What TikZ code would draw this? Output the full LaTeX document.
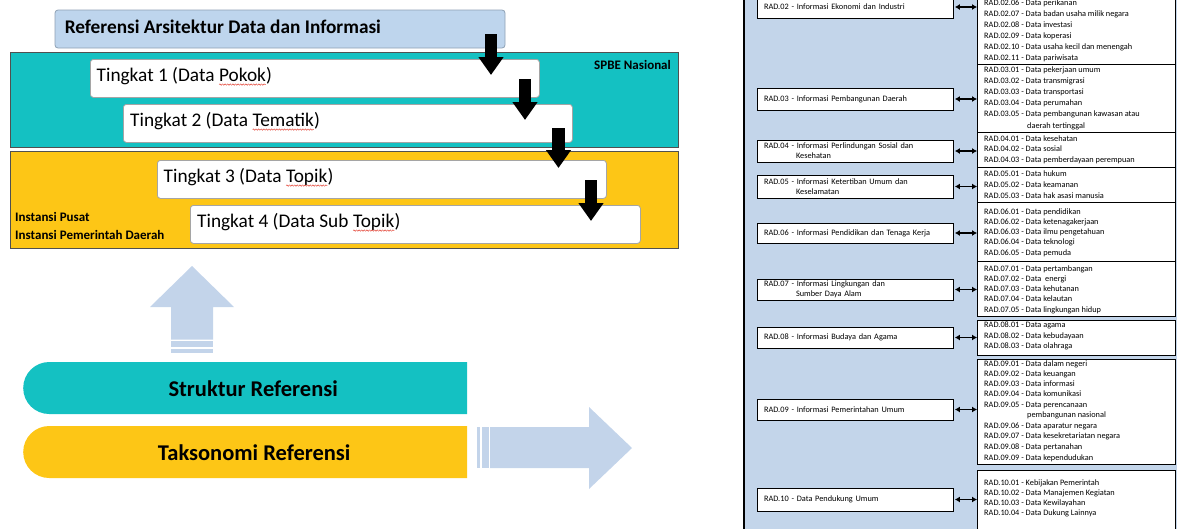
\documentclass[tikz,border=0pt]{standalone}
\usepackage{fontspec}
\setmainfont{Carlito}
\usetikzlibrary{arrows.meta,shapes.misc,decorations.pathmorphing}

\definecolor{bandteal}{HTML}{14C1C2}
\definecolor{bandyellow}{HTML}{FDC616}
\definecolor{titleblue}{HTML}{BED5ED}
\definecolor{titleedge}{HTML}{8EA0B4}
\definecolor{flowblue}{HTML}{C3D4EA}
\definecolor{panelblue}{HTML}{C3D5EA}
\definecolor{boxedge}{HTML}{A5A5A5}
\definecolor{bandedge}{HTML}{505050}
\definecolor{spellred}{HTML}{E34234}

% red wavy spell-check mark under a word
\newcommand{\spellmark}[1]{\tikz[baseline=(sw.base)]{%
  \node[inner sep=0pt,outer sep=0pt,anchor=base] (sw) {#1};%
  \draw[spellred,line width=0.45pt,decorate,decoration={snake,amplitude=0.7pt,segment length=2.6pt}]
    ([yshift=-3pt]sw.base west) -- ([yshift=-3pt]sw.base east);}}

\tikzset{
  band/.style={draw=bandedge,line width=0.9pt,anchor=north west,inner sep=0pt,minimum width=668pt},
  tbox/.style={draw=boxedge,fill=white,rounded corners=3pt,line width=0.8pt,anchor=north west,
    inner sep=0pt,minimum width=449pt,minimum height=38pt},
  ttext/.style={anchor=west,inner sep=0pt,text height=12.3pt,text depth=0pt,font=\fontsize{19.3}{22}\selectfont},
  blkarrow/.style={line width=12.5pt,black,-{Triangle[length=18pt,width=24pt]}},
  sidelabel/.style={anchor=west,inner sep=0pt,text height=8.4pt,text depth=0pt,font=\fontsize{13}{15}\selectfont\bfseries},
  pill/.style={rounded rectangle,rounded rectangle right arc=none,inner sep=0pt,
    minimum width=444pt,minimum height=52pt,anchor=west},
  pilltext/.style={inner sep=0pt,text height=14.5pt,text depth=0pt,font=\fontsize{22.5}{26}\selectfont\bfseries},
  radbox/.style={draw=black,fill=white,line width=0.8pt,minimum width=196pt,text width=182pt,
    inner xsep=7pt,inner ysep=0pt,align=left,font=\fontsize{8.3}{10}\selectfont},
  dbox/.style={draw=black,fill=white,line width=0.8pt,anchor=north west,inner sep=0pt,minimum width=198pt},
  dline/.style={anchor=west,inner sep=0pt,text height=5pt,text depth=0pt,font=\fontsize{8.3}{10}\selectfont},
  dblarrow/.style={line width=1.4pt,{Latex[length=5pt,width=6pt]}-{Latex[length=5pt,width=6pt]},shorten <=1.5pt}
}

\begin{document}
\begin{tikzpicture}[x=1pt,y=-1pt]
\useasboundingbox (0,0) rectangle (1177,528);
\begin{scope}
\clip (0,0) rectangle (1177,528);

% ---------- layered reference structure ----------
\node[draw=titleedge,fill=titleblue,rounded corners=3pt,line width=0.8pt,inner sep=0pt,
  minimum width=450pt,minimum height=38pt] (title) at (280,29) {};
\node[anchor=west,inner sep=0pt,text height=12.5pt,text depth=0pt,font=\fontsize{19.3}{22}\selectfont\bfseries]
  (titletxt) at ([xshift=10pt,yshift=2pt]title.west) {Referensi Arsitektur Data dan Informasi};

\node[band,fill=bandteal,minimum height=95pt] (spbe) at (10,52) {};
\node[band,fill=bandyellow,minimum height=97pt] (instansi) at (10,151) {};

\node[sidelabel,anchor=east] (spbetxt) at (671,65) {SPBE Nasional};
\node[sidelabel] (pusat) at (15,217) {Instansi Pusat};
\node[sidelabel] (pemda) at (15,235) {Instansi Pemerintah Daerah};

\node[tbox] (t1) at (90,59) {};
\node[tbox] (t2) at (123,104) {};
\node[tbox] (t3) at (157,160) {};
\node[tbox,minimum width=450pt] (t4) at (190,205) {};

\node[ttext] (t1txt) at ([xshift=6.5pt,yshift=3pt]t1.west) {Tingkat 1 (Data \spellmark{Pokok})};
\node[ttext] (t2txt) at ([xshift=7pt,yshift=3pt]t2.west) {Tingkat 2 (Data \spellmark{Tematik})};
\node[ttext] (t3txt) at ([xshift=6.5pt,yshift=3pt]t3.west) {Tingkat 3 (Data \spellmark{Topik})};
\node[ttext] (t4txt) at ([xshift=7pt,yshift=3pt]t4.west) {Tingkat 4 (Data Sub \spellmark{Topik})};

% stepping arrows between the levels
\draw[blkarrow] (491,34) -- (491,75);
\draw[blkarrow] (525,79) -- (525,120);
\draw[blkarrow] (558.5,128) -- (558.5,168);
\draw[blkarrow] (591,180) -- (591,221);

% ---------- structure / taxonomy ----------
\fill[flowblue] (171,339.5) -- (171,307) -- (150,307) -- (192,266) -- (234,307) -- (213,307) -- (213,339.5) -- cycle;
\fill[flowblue] (171,341) rectangle (213,347.2);
\fill[flowblue] (171,348.7) rectangle (213,353);

\node[pill,fill=bandteal] (struktur) at (23,388) {};
\node[pill,fill=bandyellow] (taksonomi) at (23,452) {};
\node[pilltext] (strukturtxt) at ([xshift=8pt,yshift=-1.5pt]struktur.center) {Struktur Referensi};
\node[pilltext] (taksonomitxt) at ([xshift=9pt,yshift=-1.5pt]taksonomi.center) {Taksonomi Referensi};

\fill[flowblue] (477,427) rectangle (480,468);
\fill[flowblue] (481.5,427) rectangle (488.5,468);
\fill[flowblue] (490,427) -- (589,427) -- (589,407) -- (632,448) -- (589,489) -- (589,468) -- (490,468) -- cycle;

% ---------- taxonomy detail panel ----------
\fill[panelblue,draw=black,line width=1.2pt] (744,-10) rectangle (1200,540);

\node[radbox,minimum height=22pt] (r02) at (855,7) {RAD.02 - Informasi Ekonomi dan Industri};
\node[radbox,minimum height=22pt] (r03) at (855,99) {RAD.03 - Informasi Pembangunan Daerah};
\node[radbox,minimum height=22pt] (r04) at (855,151) {RAD.04 - Informasi Perlindungan Sosial dan\\\hspace*{32pt}Kesehatan};
\node[radbox,minimum height=23pt] (r05) at (855,186.5) {RAD.05 - Informasi Ketertiban Umum dan\\\hspace*{32pt}Keselamatan};
\node[radbox,minimum height=20pt] (r06) at (855,233) {RAD.06 - Informasi Pendidikan dan Tenaga Kerja};
\node[radbox,minimum height=21pt] (r07) at (855,289.5) {RAD.07 - Informasi Lingkungan dan\\\hspace*{32pt}Sumber Daya Alam};
\node[radbox,minimum height=21pt] (r08) at (855,337.5) {RAD.08 - Informasi Budaya dan Agama};
\node[radbox,minimum height=21pt] (r09) at (855,409.5) {RAD.09 - Informasi Pemerintahan Umum};
\node[radbox,minimum height=23pt] (r10) at (855,499.5) {RAD.10 - Data Pendukung Umum};

\node[dbox,minimum height=74pt] (d02) at (977,-10) {};
\node[dbox,minimum height=68pt] (d03) at (977,64) {};
\node[dbox,minimum height=35pt] (d04) at (977,132) {};
\node[dbox,minimum height=35pt] (d05) at (977,167) {};
\node[dbox,minimum height=59pt] (d06) at (977,202) {};
\node[dbox,minimum height=55pt] (d07) at (977,261) {};
\node[dbox,minimum height=35pt] (d08) at (977,320) {};
\node[dbox,minimum height=105pt] (d09) at (977,359) {};
\node[dbox,minimum height=70pt] (d10) at (977,470) {};

\foreach \yy/\tx in {
  3/RAD.02.06 - Data perikanan,
  14/RAD.02.07 - Data badan usaha milik negara,
  25/RAD.02.08 - Data investasi,
  36/RAD.02.09 - Data koperasi,
  47/RAD.02.10 - Data usaha kecil dan menengah,
  58/RAD.02.11 - Data pariwisata,
  70/RAD.03.01 - Data pekerjaan umum,
  81/RAD.03.02 - Data transmigrasi,
  92/RAD.03.03 - Data transportasi,
  103/RAD.03.04 - Data perumahan,
  114/RAD.03.05 - Data pembangunan kawasan atau,
  139/RAD.04.01 - Data kesehatan,
  149/RAD.04.02 - Data sosial,
  160/RAD.04.03 - Data pemberdayaan perempuan,
  174/RAD.05.01 - Data hukum,
  185/RAD.05.02 - Data keamanan,
  196/RAD.05.03 - Data hak asasi manusia,
  212/RAD.06.01 - Data pendidikan,
  222/RAD.06.02 - Data ketenagakerjaan,
  232/RAD.06.03 - Data ilmu pengetahuan,
  242/RAD.06.04 - Data teknologi,
  253/RAD.06.05 - Data pemuda,
  269/RAD.07.01 - Data pertambangan,
  279/RAD.07.02 - Data\ \ energi,
  289/RAD.07.03 - Data kehutanan,
  299/RAD.07.04 - Data kelautan,
  310/RAD.07.05 - Data lingkungan hidup,
  325/RAD.08.01 - Data agama,
  336/RAD.08.02 - Data kebudayaan,
  346/RAD.08.03 - Data olahraga,
  364/RAD.09.01 - Data dalam negeri,
  374/RAD.09.02 - Data keuangan,
  384/RAD.09.03 - Data informasi,
  394/RAD.09.04 - Data komunikasi,
  405/RAD.09.05 - Data perencanaan,
  426/RAD.09.06 - Data aparatur negara,
  436/RAD.09.07 - Data kesekretariatan negara,
  447/RAD.09.08 - Data pertanahan,
  458/RAD.09.09 - Data kependudukan,
  483/RAD.10.01 - Kebijakan Pemerintah,
  493/RAD.10.02 - Data Manajemen Kegiatan,
  503/RAD.10.03 - Data Kewilayahan,
  513/RAD.10.04 - Data Dukung Lainnya}
  \node[dline] (dl\yy) at (984,\yy) {\tx};
\node[dline] (dl126) at (1027,126) {daerah tertinggal};
\node[dline] (dl415) at (1027,415) {pembangunan nasional};

\foreach \k in {02,03,04,05,06,07,08,09,10}
  \draw[dblarrow] (r\k.east) -- (r\k.east -| d\k.west);
\end{scope}
\end{tikzpicture}
\end{document}
